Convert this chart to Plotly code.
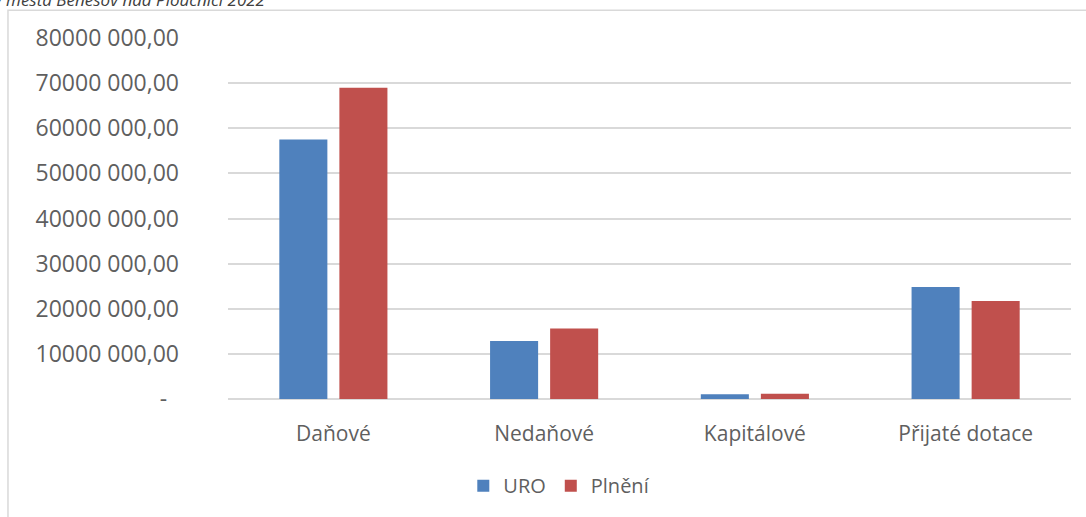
import plotly.graph_objects as go

categories = ["Daňové", "Nedaňové", "Kapitálové", "Přijaté dotace"]
uro = [57_500_000, 12_850_000, 1_040_000, 24_800_000]
plneni = [69_000_000, 15_650_000, 1_170_000, 21_700_000]

tick_vals = [0, 10_000_000, 20_000_000, 30_000_000, 40_000_000,
             50_000_000, 60_000_000, 70_000_000, 80_000_000]
tick_text = ["-\u00a0\u00a0", "10000 000,00", "20000 000,00", "30000 000,00",
             "40000 000,00", "50000 000,00", "60000 000,00", "70000 000,00",
             "80000 000,00"]

font_family = "Open Sans"
grey_text = "#5f5f5f"

fig = go.Figure()
fig.add_trace(go.Bar(x=categories, y=uro, name="URO",
                     marker=dict(color="#4f81bd", line=dict(width=0))))
fig.add_trace(go.Bar(x=categories, y=plneni, name="Plnění",
                     marker=dict(color="#c0504d", line=dict(width=0))))

fig.update_yaxes(
    range=[0, 80_000_000],
    tickvals=tick_vals,
    ticktext=tick_text,
    showgrid=True,
    gridcolor="#d9d9d9",
    gridwidth=1.5,
    zeroline=True,
    zerolinecolor="#d9d9d9",
    zerolinewidth=1.5,
    ticklabelstandoff=48,
    tickfont=dict(family=font_family, size=23, color=grey_text),
)
fig.update_xaxes(
    showline=False,
    ticklabelstandoff=20,
    tickfont=dict(family=font_family, size=21, color=grey_text),
)

# chart area frame (partly cut off on the right/bottom, as in the source)
fig.add_shape(type="rect", xref="paper", yref="paper",
              x0=-0.261, x1=1.3, y0=-0.6, y1=1.077,
              line=dict(color="#d9d9d9", width=1.5), layer="below")

fig.update_layout(
    width=1086,
    height=517,
    margin=dict(l=228, r=15, t=38, b=116),
    plot_bgcolor="white",
    paper_bgcolor="white",
    bargap=0.43,
    bargroupgap=0.2,
    title=dict(
        text="Příjmy města Benešov nad Ploučnicí 2022",
        xref="container", yref="container",
        x=0.244, xanchor="right",
        y=1.0, yanchor="middle",
        font=dict(family=font_family, size=17, color="#404040", style="italic"),
    ),
    legend=dict(
        orientation="h",
        x=0.393, xanchor="center",
        y=-0.24, yanchor="middle",
        font=dict(family=font_family, size=20, color=grey_text),
        itemwidth=30,
    ),
)

# page body has a default 8px margin; remove it so the figure sits at 0,0
fig.write_html("out.html", config={"displayModeBar": False},
               post_script="document.body.style.margin='0';")
